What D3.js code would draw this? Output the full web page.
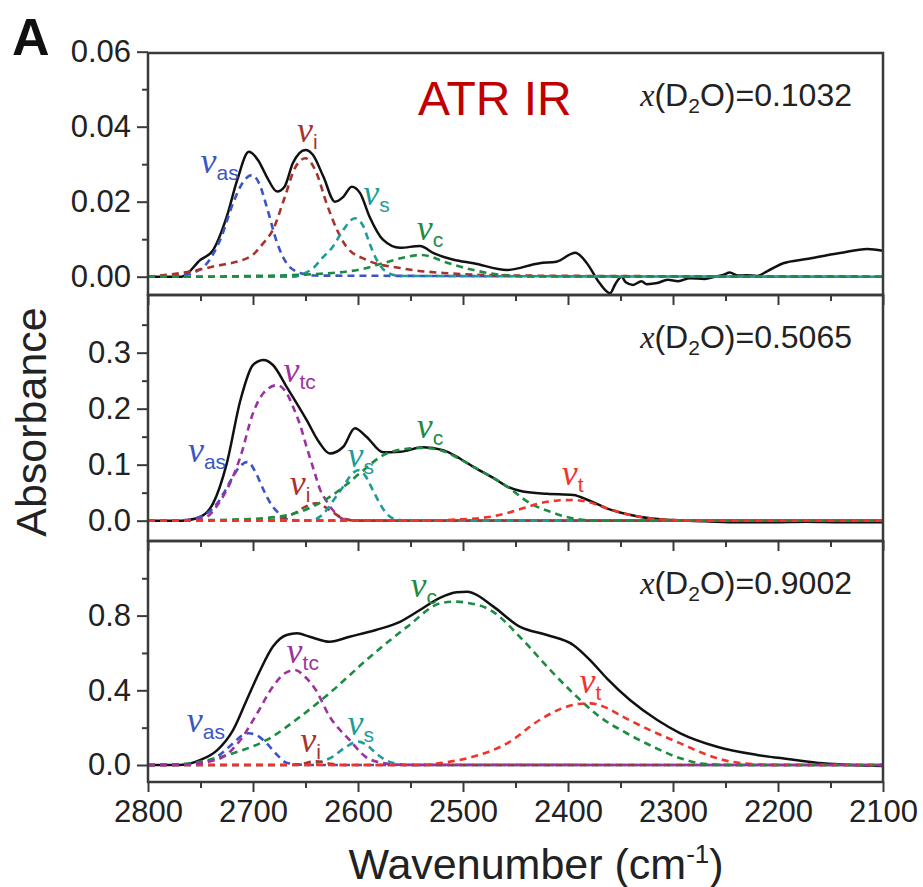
<!DOCTYPE html>
<html>
<head>
<meta charset="utf-8">
<script src="https://cdn.jsdelivr.net/npm/d3@7"></script>
<style>
  body { margin: 0; background: #fff; }
  text { font-family: "Liberation Sans", Arial, sans-serif; }
</style>
</head>
<body>
<svg id="chart"></svg>
<script>
// ===============================
// Data (wavenumber cm-1, absorbance)
// ===============================

// --- panel 1 : x(D2O)=0.1032 ---
const p1Total = [[2800,0],[2768,0],[2750,0.0045],[2738,0.0071],[2725,0.016],[2715,0.0258],[2704,0.0333],[2695,0.031],
  [2687,0.0267],[2677,0.0227],[2670,0.024],[2662,0.0303],[2650,0.0338],[2643,0.0325],[2633,0.0267],[2622,0.02],
  [2614,0.0213],[2606,0.024],[2598,0.0223],[2589,0.016],[2576,0.0098],[2560,0.0077],[2541,0.0082],[2528,0.0063],
  [2509,0.0045],[2490,0.0036],[2458,0.0018],[2427,0.0036],[2411,0.004],[2393,0.0064],[2382,0.0036],[2370,-0.0017],
  [2360,-0.0044],[2355,-0.002],[2349,0],[2345,-0.0015],[2338,-0.0022],[2330,-0.0012],[2325,-0.002],[2315,-0.0017],
  [2305,-0.0008],[2295,-0.0012],[2284,-0.0004],[2270,-0.0006],[2260,0],[2252,0.0005],[2246,0.0011],[2238,0.0003],
  [2230,0.0004],[2220,0.0002],[2210,0.0015],[2195,0.0036],[2173,0.0047],[2141,0.0063],[2115,0.0074],[2100,0.0069]];
const p1As = [[2800,0],[2770,0.0003],[2750,0.002],[2738,0.006],[2730,0.0107],[2719,0.0196],[2710,0.025],[2701,0.0271],
  [2694,0.0248],[2687,0.0187],[2677,0.009],[2668,0.0036],[2655,0.001],[2640,0.0003],[2100,0]];
const p1I = [[2800,0],[2768,0.001],[2738,0.0027],[2703,0.0053],[2690,0.009],[2681,0.0125],[2670,0.021],[2660,0.029],
  [2650,0.0316],[2640,0.028],[2630,0.0196],[2620,0.0125],[2611,0.008],[2592,0.0045],[2560,0.0023],[2519,0.001],
  [2450,0.0003],[2100,0]];
const p1S = [[2800,0],[2660,0],[2655,0.0005],[2643,0.0022],[2634,0.005],[2624,0.008],[2614,0.0125],[2603,0.0156],
  [2595,0.0135],[2589,0.0089],[2582,0.0044],[2573,0.0013],[2560,0.0002],[2100,0]];
const p1C = [[2800,0],[2768,0],[2700,0.0002],[2655,0.0005],[2600,0.0018],[2576,0.0036],[2555,0.0052],[2541,0.0058],
  [2530,0.0053],[2522,0.0044],[2503,0.0027],[2474,0.0009],[2440,0.0001],[2100,0]];

// --- panel 2 : x(D2O)=0.5065 ---
const p2Total = [[2800,0],[2768,0],[2750,0.007],[2738,0.031],[2725,0.102],[2712,0.215],[2700,0.278],[2690,0.287],
  [2681,0.278],[2668,0.239],[2649,0.18],[2637,0.14],[2627,0.12],[2614,0.132],[2603,0.165],[2592,0.15],[2576,0.122],
  [2560,0.123],[2538,0.131],[2519,0.126],[2503,0.111],[2490,0.096],[2470,0.075],[2458,0.061],[2443,0.052],
  [2420,0.048],[2395,0.046],[2380,0.036],[2363,0.022],[2332,0.007],[2300,0.001],[2270,-0.001],[2236,-0.003],
  [2205,-0.003],[2173,-0.002],[2140,-0.003],[2100,-0.003]];
const p2As = [[2800,0],[2765,0.001],[2750,0.007],[2734,0.031],[2727,0.052],[2719,0.079],[2712,0.098],[2705,0.105],
  [2698,0.088],[2690,0.055],[2683,0.03],[2677,0.016],[2668,0.003],[2655,0],[2100,0]];
const p2Tc = [[2800,0],[2760,0.001],[2744,0.007],[2735,0.025],[2725,0.055],[2712,0.114],[2700,0.192],[2690,0.228],
  [2677,0.242],[2668,0.228],[2662,0.204],[2655,0.17],[2649,0.132],[2642,0.09],[2636,0.055],[2630,0.035],
  [2624,0.019],[2614,0.003],[2600,0],[2100,0]];
const p2I = [[2800,0],[2690,0],[2675,0.003],[2662,0.012],[2650,0.025],[2640,0.031],[2632,0.025],[2624,0.015],
  [2614,0.004],[2600,0],[2100,0]];
const p2S = [[2800,0],[2650,0],[2640,0.003],[2630,0.019],[2622,0.04],[2614,0.061],[2606,0.083],[2600,0.09],
  [2593,0.08],[2586,0.055],[2579,0.03],[2573,0.013],[2565,0.003],[2550,0],[2100,0]];
const p2C = [[2800,0],[2740,0.001],[2719,0.002],[2686,0.005],[2655,0.016],[2624,0.046],[2610,0.066],[2598,0.085],
  [2576,0.117],[2555,0.128],[2538,0.13],[2520,0.125],[2505,0.112],[2490,0.096],[2458,0.061],[2436,0.031],
  [2417,0.016],[2395,0.004],[2370,0],[2100,0]];
const p2T = [[2800,0],[2540,0],[2506,0.002],[2474,0.007],[2455,0.015],[2443,0.022],[2427,0.031],[2410,0.036],
  [2395,0.037],[2380,0.033],[2363,0.022],[2345,0.012],[2332,0.007],[2300,0.001],[2270,0],[2100,0]];

// --- panel 3 : x(D2O)=0.9002 ---
const p3Total = [[2800,0],[2770,0],[2750,0.027],[2734,0.08],[2719,0.187],[2706,0.348],[2693,0.509],[2681,0.634],
  [2668,0.696],[2658,0.705],[2646,0.687],[2627,0.66],[2608,0.687],[2583,0.723],[2560,0.767],[2541,0.83],
  [2522,0.895],[2506,0.925],[2496,0.928],[2490,0.919],[2471,0.848],[2446,0.741],[2420,0.696],[2395,0.643],
  [2379,0.562],[2363,0.464],[2341,0.348],[2315,0.241],[2293,0.17],[2258,0.098],[2220,0.054],[2189,0.031],
  [2157,0.009],[2130,0],[2100,-0.005]];
const p3As = [[2800,0],[2765,0.003],[2750,0.01],[2734,0.045],[2719,0.116],[2710,0.16],[2704,0.17],[2696,0.158],
  [2687,0.116],[2677,0.054],[2668,0.012],[2655,0.002],[2640,0],[2100,0]];
const p3Tc = [[2800,0],[2765,0.002],[2750,0.01],[2728,0.045],[2712,0.134],[2696,0.277],[2681,0.42],[2670,0.49],
  [2660,0.509],[2650,0.47],[2640,0.4],[2627,0.259],[2608,0.134],[2593,0.045],[2576,0.01],[2560,0.001],[2100,0]];
const p3I = [[2800,0],[2670,0],[2655,0.005],[2640,0.02],[2628,0.008],[2615,0],[2100,0]];
const p3S = [[2800,0],[2650,0],[2640,0.01],[2624,0.045],[2612,0.095],[2600,0.125],[2590,0.1],[2583,0.063],
  [2567,0.012],[2550,0],[2100,0]];
const p3C = [[2800,0],[2768,0.005],[2750,0.018],[2719,0.063],[2687,0.134],[2655,0.259],[2624,0.4],[2592,0.562],
  [2553,0.741],[2522,0.865],[2508,0.875],[2495,0.868],[2474,0.83],[2443,0.669],[2417,0.509],[2395,0.384],
  [2370,0.259],[2344,0.17],[2319,0.098],[2293,0.036],[2268,0.005],[2240,0],[2100,0]];
const p3T = [[2800,0],[2540,0],[2522,0.01],[2490,0.045],[2458,0.116],[2427,0.241],[2405,0.305],[2390,0.327],
  [2379,0.33],[2365,0.31],[2348,0.259],[2322,0.187],[2293,0.116],[2270,0.06],[2252,0.027],[2220,0.003],
  [2200,0],[2100,0]];

// label anchors (wavenumber, absorbance) for the band names
const p1Labels = [["as",2750,0.0277],["i",2658,0.0359],["s",2595,0.0191],["c",2544,0.0098]];
const p2Labels = [["as",2762,0.105],["tc",2671,0.248],["i",2665,0.046],["s",2610,0.096],["c",2544,0.148],["t",2406,0.064]];
const p3Labels = [["as",2763,0.177],["tc",2668,0.546],["i",2655,0.07],["s",2610,0.161],["c",2550,0.9],["t",2389,0.386]];

const fractions = ["0.1032", "0.5065", "0.9002"];
const xMajorTicks = [2800, 2700, 2600, 2500, 2400, 2300, 2200, 2100];
const xMinorTicks = [2750, 2650, 2550, 2450, 2350, 2250, 2150];

// ===============================
// Setup
// ===============================
const width = 923, height = 887;
const left = 148, right = 883;
const panelEdges = [53, 295, 541, 782];

const colors = {
    as: "#3a55c5", i: "#a8322c", s: "#1f9c9a", c: "#1d8c42", tc: "#9b32a0", t: "#f0342c"
};

const panels = [
    { total: p1Total, comps: [["as", p1As], ["i", p1I], ["s", p1S], ["c", p1C]], labels: p1Labels,
      domain: [-0.00488, 0.05965], major: [0, 0.02, 0.04, 0.06], minor: [0.01, 0.03, 0.05], fmt: ".2f" },
    { total: p2Total, comps: [["as", p2As], ["tc", p2Tc], ["i", p2I], ["s", p2S], ["c", p2C], ["t", p2T]], labels: p2Labels,
      domain: [-0.0363, 0.403], major: [0, 0.1, 0.2, 0.3], minor: [0.05, 0.15, 0.25, 0.35], fmt: ".1f" },
    { total: p3Total, comps: [["as", p3As], ["s", p3S], ["i", p3I], ["c", p3C], ["t", p3T], ["tc", p3Tc]], labels: p3Labels,
      domain: [-0.091, 1.1995], major: [0, 0.4, 0.8], minor: [0.2, 0.6, 1.0], fmt: ".1f" }
];

const svg = d3.select("#chart").attr("width", width).attr("height", height);

const x = d3.scaleLinear().domain([2800, 2100]).range([left, right]);

panels.forEach((p, k) => {
    const top = panelEdges[k], bottom = panelEdges[k + 1];
    const y = d3.scaleLinear().domain(p.domain).range([bottom, top]);
    const g = svg.append("g");

    const line = d3.line()
        .x(d => x(d[0]))
        .y(d => y(d[1]))
        .curve(d3.curveMonotoneX);

    // Measured spectrum
    g.append("path")
        .datum(p.total)
        .attr("fill", "none")
        .attr("stroke", "#111")
        .attr("stroke-width", 2.5)
        .attr("stroke-linejoin", "round")
        .attr("d", line);

    // Fitted bands
    p.comps.forEach(([key, data]) => {
        g.append("path")
            .datum(data)
            .attr("fill", "none")
            .attr("stroke", colors[key])
            .attr("stroke-width", 2.6)
            .attr("stroke-dasharray", "7,5")
            .attr("d", line);
    });

    // Band labels
    p.labels.forEach(([key, w, a]) => {
        const t = g.append("text")
            .attr("x", x(w))
            .attr("y", y(a))
            .attr("fill", colors[key]);
        t.append("tspan")
            .style("font-family", '"Liberation Serif", "Times New Roman", serif')
            .style("font-style", "italic")
            .attr("font-size", 36)
            .text("\u03BD");
        t.append("tspan")
            .attr("dx", 0)
            .attr("dy", 7)
            .attr("font-size", 21)
            .text(key);
    });

    // Frame
    g.append("rect")
        .attr("x", left).attr("y", top)
        .attr("width", right - left).attr("height", bottom - top)
        .attr("fill", "none")
        .attr("stroke", "#3a3a3a")
        .attr("stroke-width", 2.5);

    // Bottom axis (ticks; labels only on the last panel)
    g.append("g")
        .attr("transform", `translate(0, ${bottom})`)
        .call(d3.axisBottom(x).tickValues(xMajorTicks).tickSize(10).tickSizeOuter(0)
            .tickFormat(k === 2 ? d3.format("d") : ""));
    g.append("g")
        .attr("transform", `translate(0, ${bottom})`)
        .call(d3.axisBottom(x).tickValues(xMinorTicks).tickSize(6).tickSizeOuter(0).tickFormat(""));

    // Left axis
    g.append("g")
        .attr("transform", `translate(${left}, 0)`)
        .call(d3.axisLeft(y).tickValues(p.major).tickSize(11).tickSizeOuter(0).tickFormat(d3.format(p.fmt)));
    g.append("g")
        .attr("transform", `translate(${left}, 0)`)
        .call(d3.axisLeft(y).tickValues(p.minor).tickSize(6).tickSizeOuter(0).tickFormat(""));

    // Composition label
    const lab = g.append("text")
        .attr("x", 852)
        .attr("y", top + 53)
        .attr("text-anchor", "end")
        .attr("font-size", 32)
        .attr("fill", "#222");
    lab.append("tspan")
        .style("font-family", '"Liberation Serif", "Times New Roman", serif')
        .style("font-style", "italic")
        .text("x");
    lab.append("tspan").text("(D");
    lab.append("tspan").attr("dy", 7).attr("font-size", 21).text("2");
    lab.append("tspan").attr("dy", -7).text("O)=" + fractions[k]);
});

// Axis styling
svg.selectAll(".domain").remove();
svg.selectAll(".tick line").attr("stroke", "#3a3a3a").attr("stroke-width", 2);
svg.selectAll(".tick text")
    .attr("fill", "#222")
    .attr("font-size", 31)
    .style("font-family", '"Liberation Sans", Arial, sans-serif');
svg.selectAll(".tick text").filter(function() { return this.getAttribute("dy") === "0.71em"; })
    .attr("y", 18);
svg.selectAll("g[text-anchor='end'] .tick text").attr("x", -17);

// Title texts
svg.append("text")
    .attr("x", 418).attr("y", 115)
    .attr("font-size", 48)
    .attr("fill", "#c00000")
    .text("ATR IR");

svg.append("text")
    .attr("x", 12).attr("y", 55)
    .attr("font-size", 52)
    .attr("font-weight", "bold")
    .attr("fill", "#111")
    .text("A");

svg.append("text")
    .attr("transform", "translate(46, 422) rotate(-90)")
    .attr("text-anchor", "middle")
    .attr("font-size", 43)
    .attr("fill", "#222")
    .text("Absorbance");

const xt = svg.append("text")
    .attr("x", 536).attr("y", 879)
    .attr("text-anchor", "middle")
    .attr("font-size", 43)
    .attr("fill", "#222");
xt.append("tspan").text("Wavenumber (cm");
xt.append("tspan").attr("dy", -16).attr("font-size", 26).text("-1");
xt.append("tspan").attr("dy", 16).text(")");
</script>
</body>
</html>
